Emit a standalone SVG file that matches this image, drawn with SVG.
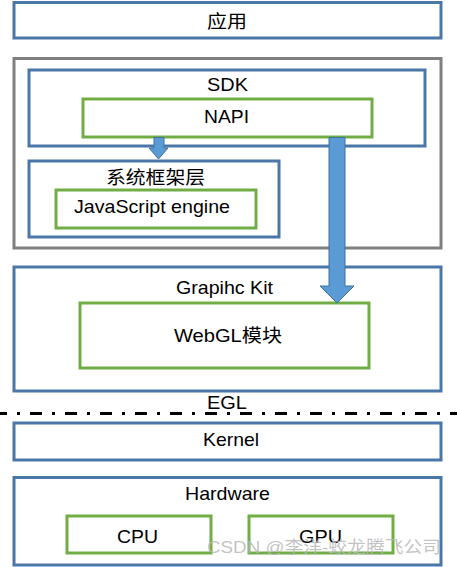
<svg xmlns="http://www.w3.org/2000/svg" width="457" height="567" viewBox="0 0 457 567">
<style>
.b{fill:#fff;stroke:#4a76a8;stroke-width:3}
.g{fill:#fff;stroke:#70ad47;stroke-width:3}
.gr{fill:#fff;stroke:#7f7f7f;stroke-width:3}
.t{font-family:"Liberation Sans","Noto Sans CJK SC",Arial,sans-serif;font-size:18.5px;fill:#000;text-anchor:middle}
.arr{fill:#5b9bd5;stroke:#41719c;stroke-width:1}
</style>
<rect width="457" height="567" fill="#fff"/>
<g id="app"><rect class="b" x="14" y="2.5" width="427" height="35.5"/><text class="t" x="227" y="28" textLength="40" lengthAdjust="spacingAndGlyphs">应用</text></g>
<g id="outer"><rect class="gr" x="14" y="58.5" width="427" height="189.5"/></g>
<g id="sdk"><rect class="b" x="29" y="70" width="396" height="76"/><text class="t" x="227.5" y="91" textLength="41" lengthAdjust="spacingAndGlyphs">SDK</text></g>
<g id="napi"><rect class="g" x="83" y="99" width="289" height="38"/><text class="t" x="226.5" y="123" textLength="45" lengthAdjust="spacingAndGlyphs">NAPI</text></g>
<g id="framework"><rect class="b" x="29" y="161" width="250" height="76"/><text class="t" x="155.5" y="184" textLength="99" lengthAdjust="spacingAndGlyphs">系统框架层</text></g>
<g id="jsengine"><rect class="g" x="56" y="190" width="200" height="38"/><text class="t" x="152" y="213" textLength="156" lengthAdjust="spacingAndGlyphs">JavaScript engine</text></g>
<g id="graphickit"><rect class="b" x="14" y="267" width="427" height="124"/><text class="t" x="224.5" y="294" textLength="97" lengthAdjust="spacingAndGlyphs">Grapihc Kit</text></g>
<g id="webgl"><rect class="g" x="80" y="303" width="289" height="65"/><text class="t" x="228" y="342" textLength="108" lengthAdjust="spacingAndGlyphs">WebGL模块</text></g>
<g id="egl"><text class="t" x="227" y="409" textLength="40" lengthAdjust="spacingAndGlyphs">EGL</text></g>
<g id="kernel"><rect class="b" x="14" y="423" width="427" height="37"/><text class="t" x="231" y="446" textLength="56" lengthAdjust="spacingAndGlyphs">Kernel</text></g>
<g id="hardware"><rect class="b" x="14" y="477.5" width="427" height="87.5"/><text class="t" x="227.5" y="500" textLength="85" lengthAdjust="spacingAndGlyphs">Hardware</text></g>
<g id="cpu"><rect class="g" x="67" y="516" width="144" height="37"/><text class="t" x="137.5" y="543" textLength="41" lengthAdjust="spacingAndGlyphs">CPU</text></g>
<g id="gpu"><rect class="g" x="249" y="516" width="144" height="37"/><text class="t" x="320.5" y="543" textLength="43" lengthAdjust="spacingAndGlyphs">GPU</text></g>
<g id="connectors">
<line x1="0" y1="413.5" x2="457" y2="413.5" stroke="#000" stroke-width="3" stroke-dasharray="12 10 3 10" stroke-dashoffset="5"/>
<polygon class="arr" points="154,137.5 164,137.5 164,148 168,148 158.5,159 149,148 154,148"/>
<polygon class="arr" points="329,137.5 345,137.5 345,286 354,286 337,303 320,286 329,286"/>
</g>
<text x="207" y="553" font-family="'Liberation Sans','Noto Sans CJK SC',sans-serif" font-size="17" fill="#b8b8b8" fill-opacity="0.85" textLength="234" lengthAdjust="spacingAndGlyphs">CSDN @李洋-蛟龙腾飞公司</text>
</svg>
